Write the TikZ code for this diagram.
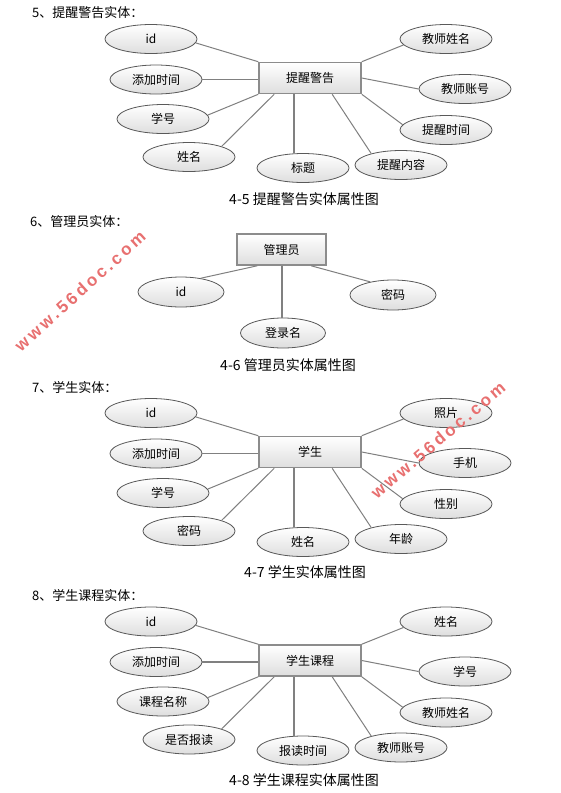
\documentclass[tikz,border=0pt]{standalone}
\usepackage{fontspec}
\setmainfont{Noto Sans CJK SC}
\newfontfamily\wmfont[LetterSpace=18]{Liberation Sans}
\usetikzlibrary{shapes.geometric,calc}
\definecolor{lineg}{HTML}{808080}
\definecolor{wmred}{RGB}{232,112,112}
\newcommand\erblock[3]{%
\begin{scope}[shift={(0,#2)}]
 \node[ent] (#1r) at (310,78) {#3};
 \node[attr] (#1a) at (151,39) {\lA};
 \node[attr] (#1b) at (156,79.5) {\lB};
 \node[attr] (#1c) at (163,119) {\lC};
 \node[attr] (#1d) at (189,157) {\lD};
 \node[attr] (#1e) at (303,168) {\lE};
 \node[attr] (#1f) at (401,165) {\lF};
 \node[attr] (#1g) at (446,39) {\lG};
 \node[attr] (#1h) at (465,89) {\lH};
 \node[attr] (#1i) at (446,130) {\lI};
 \coordinate (#1t) at ([xshift=36pt]#1r.south west);
 \draw[conn] (#1a.-5) -- (#1r.north west);
 \draw[connhv] (#1b.east) -- (#1b.east -| #1r.west);
 \draw[conn] (#1c.5) -- (#1r.south west);
 \draw[conn] (#1d.18) -- ([xshift=16pt]#1r.south west);
 \draw[connhv] (#1t) -- (#1t |- #1e.north);
 \draw[conn] (#1f.159) -- ([xshift=74pt]#1r.south west);
 \draw[conn] (#1g.188) -- (#1r.north east);
 \draw[conn] (#1h.west) -- (#1r.east);
 \draw[conn] (#1i.173) -- (#1r.south east);
\end{scope}}
\begin{document}
\begin{tikzpicture}[x=1pt,y=-1pt,
  attr/.style={ellipse, draw=black!65, line width=0.8pt, top color=white, bottom color=black!13,
    minimum width=92pt, minimum height=29pt, inner sep=0pt, font=\fontsize{12}{14}\selectfont},
  ent/.style={rectangle, draw=black!45, line width=1.6pt, top color=white, bottom color=black!13,
    minimum width=102pt, minimum height=31pt, inner sep=0pt, font=\fontsize{12}{14}\selectfont},
  conn/.style={draw=lineg, line width=1pt},
  connhv/.style={draw=lineg, line width=1.8pt},
  head/.style={anchor=west, inner sep=0pt, font=\fontsize{13}{15}\selectfont},
  capt/.style={inner sep=0pt, font=\fontsize{14}{16}\selectfont},
  wm/.style={text=wmred, inner sep=0pt, font=\wmfont\bfseries\fontsize{17}{17}\selectfont}]
\useasboundingbox[fill=white] (0,0) rectangle (560,793);

% ---- 4-5
\node[head] (h1) at (32,13) {5、提醒警告实体：};
\def\lA{id}\def\lB{添加时间}\def\lC{学号}\def\lD{姓名}\def\lE{标题}\def\lF{提醒内容}\def\lG{教师姓名}\def\lH{教师账号}\def\lI{提醒时间}
\erblock{p}{0}{提醒警告}
\node[capt] (c1) at (304,199) {4-5 提醒警告实体属性图};

% ---- 4-6
\node[head] (h2) at (30,222) {6、管理员实体：};
\node[ent, minimum width=89pt] (mr) at (281.5,249.5) {管理员};
\node[attr, minimum width=86pt, minimum height=30pt] (ma) at (181,292) {id};
\node[attr, minimum width=85pt, minimum height=30pt] (mb) at (283,333) {登录名};
\node[attr, minimum width=86pt, minimum height=30pt] (mc) at (393,295) {密码};
\coordinate (mt) at ([xshift=46pt]mr.south west);
\draw[conn] (ma.35) -- ([xshift=21pt]mr.south west);
\draw[connhv] (mt) -- (mt |- mb.north);
\draw[conn] (mc.150) -- ([xshift=75pt]mr.south west);
\node[capt] (c2) at (288,365) {4-6 管理员实体属性图};

% ---- 4-7
\node[head] (h3) at (32,387) {7、学生实体：};
\def\lA{id}\def\lB{添加时间}\def\lC{学号}\def\lD{密码}\def\lE{姓名}\def\lF{年龄}\def\lG{照片}\def\lH{手机}\def\lI{性别}
\erblock{s}{374}{学生}
\node[capt] (c3) at (305,572) {4-7 学生实体属性图};

% ---- 4-8
\node[head] (h4) at (32,595) {8、学生课程实体：};
\def\lA{id}\def\lB{添加时间}\def\lC{课程名称}\def\lD{是否报读}\def\lE{报读时间}\def\lF{教师账号}\def\lG{姓名}\def\lH{学号}\def\lI{教师姓名}
\erblock{k}{582.5}{学生课程}
\node[capt] (c4) at (304,780) {4-8 学生课程实体属性图};

% ---- watermarks
\node[wm, rotate=42] (w1) at (80,291) {www.56doc.com};
\node[wm, rotate=40] (w2) at (438,440) {www.56doc.com};
\end{tikzpicture}
\end{document}
